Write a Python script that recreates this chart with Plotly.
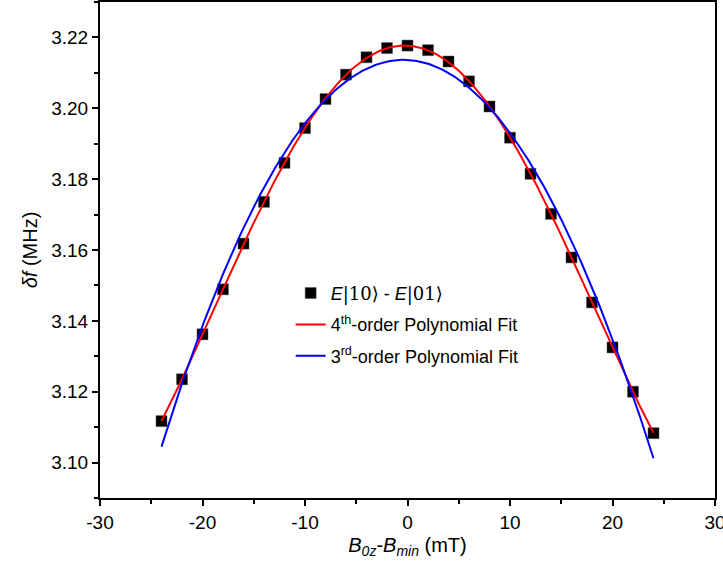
import numpy as np
import plotly.graph_objects as go

# Data
b_field = [-24, -22, -20, -18, -16, -14, -12, -10, -8, -6, -4, -2, 0,
           2, 4, 6, 8, 10, 12, 14, 16, 18, 20, 22, 24]
delta_f = [3.1117, 3.1235, 3.1362, 3.1489, 3.1618, 3.1736, 3.1846, 3.1944,
           3.2026, 3.2095, 3.2144, 3.2170, 3.2177, 3.2164, 3.2132, 3.2076,
           3.2005, 3.1917, 3.1815, 3.1702, 3.1579, 3.1452, 3.1325, 3.1200,
           3.1083]

x_ticks = [-30, -20, -10, 0, 10, 20, 30]
x_tick_labels = ["-30", "-20", "-10", "0", "10", "20", "30"]
y_ticks = [3.10, 3.12, 3.14, 3.16, 3.18, 3.20, 3.22]
y_tick_labels = ["3.10", "3.12", "3.14", "3.16", "3.18", "3.20", "3.22"]

xd = np.array(b_field)
yd = np.array(delta_f)
xf = np.linspace(min(b_field), max(b_field), 300)
fit4 = np.polyval(np.polyfit(xd, yd, 4), xf)
fit3 = np.polyval(np.polyfit(xd, yd, 3), xf)

FONT = "Liberation Sans, Arial, sans-serif"
SERIF = "font-family:DejaVu Serif, serif"

fig = go.Figure()
fig.add_trace(go.Scatter(
    x=b_field, y=delta_f, mode="markers",
    marker=dict(symbol="square", size=11, color="black",
                line=dict(color="#555555", width=0.5)),
    name=f"<i>E</i><span style='{SERIF}'>|10⟩</span> - <i>E</i><span style='{SERIF}'>|01⟩</span>",
    legendgroup="a"))
fig.add_trace(go.Scatter(
    x=xf, y=fit4, mode="lines", line=dict(color="#ff0000", width=2),
    name="4<sup>th</sup>-order Polynomial Fit", legendgroup="b"))
fig.add_trace(go.Scatter(
    x=xf, y=fit3, mode="lines", line=dict(color="#0000ff", width=2),
    name="3<sup>rd</sup>-order Polynomial Fit", legendgroup="c"))

axis_common = dict(showline=True, linecolor="black", linewidth=2, mirror=True,
                   ticks="outside", ticklen=6, tickwidth=2, tickcolor="black",
                   showgrid=False, zeroline=False, automargin=False,
                   tickfont=dict(family=FONT, size=19, color="black"))

fig.update_xaxes(range=[-30, 30], tickvals=x_ticks, ticktext=x_tick_labels,
                 ticklabeloverflow="allow",
                 minor=dict(dtick=5, ticks="outside", ticklen=4, tickwidth=2, tickcolor="black"),
                 title=dict(text="<i>B</i><sub><i>0z</i></sub>-<i>B</i><sub><i>min</i></sub> (mT)",
                            font=dict(family=FONT, size=20, color="black"), standoff=6),
                 **axis_common)
fig.update_yaxes(range=[3.09, 3.23], tickvals=y_ticks, ticktext=y_tick_labels,
                 minor=dict(dtick=0.01, tick0=3.09, ticks="outside", ticklen=4, tickwidth=2, tickcolor="black"),
                 title=dict(text="<i>δf</i> (MHz)",
                            font=dict(family=FONT, size=20, color="black"), standoff=8),
                 **axis_common)

fig.update_layout(
    width=723, height=575,
    margin=dict(l=100, r=8, t=2, b=77),
    plot_bgcolor="white", paper_bgcolor="white",
    font=dict(family=FONT, size=18, color="black"),
    legend=dict(x=0.31, y=0.45, xanchor="left", yanchor="top",
                bgcolor="rgba(0,0,0,0)", tracegroupgap=5,
                font=dict(family=FONT, size=18, color="black")),
    showlegend=True,
)

fig.write_html("out.html")
